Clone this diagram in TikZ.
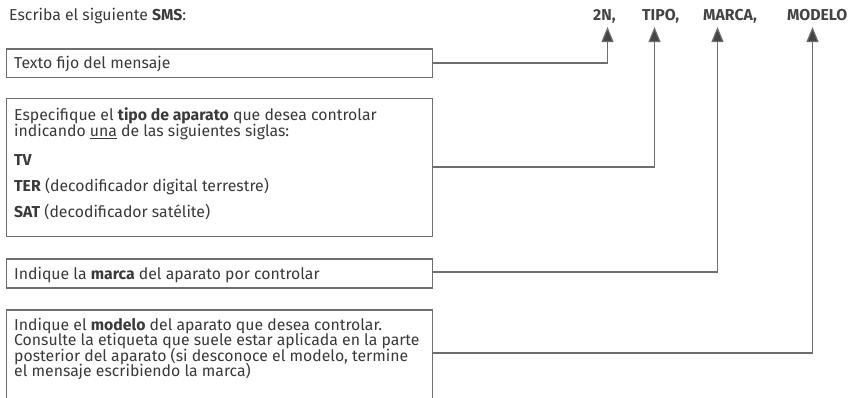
\documentclass[tikz,border=0pt]{standalone}
\usepackage{fontspec}
\setmainfont{Fira Sans}
\usetikzlibrary{arrows.meta}
\definecolor{txt}{HTML}{3A3A3A}
\definecolor{ln}{HTML}{6E6E6E}
\definecolor{hd}{HTML}{444444}
\tikzset{
  boxr/.style={draw=ln,line width=1.2pt,inner sep=0pt,anchor=north west},
  tl/.style={anchor=base west,inner sep=0pt,text=txt,font=\fontsize{15.8}{16}\selectfont},
  hdl/.style={anchor=base west,inner sep=0pt,text=hd,font=\fontsize{15.8}{16}\selectfont\bfseries},
  conn/.style={draw=ln,line width=1.2pt},
  arr/.style={conn,arrows={-{Triangle[width=12pt,length=15pt,fill=hd]}}}
}
\begin{document}
\begin{tikzpicture}[x=1pt,y=-1pt]
\clip (0,0) rectangle (855,397);
\fill[white] (0,0) rectangle (855,397);
% header
\node[tl] (title) at (9,20) {Escriba el siguiente \textbf{SMS}:};
\node[hdl] (h1) at (593,20) {2N,};
\node[hdl] (h2) at (642,20) {TIPO,};
\node[hdl] (h3) at (703,20) {MARCA,};
\node[hdl] (h4) at (787,20) {MODELO};
\coordinate (t1) at (607.5,27);
\coordinate (t2) at (654.5,27);
\coordinate (t3) at (717.5,27);
\coordinate (t4) at (812.5,27);
% boxes
\node[boxr,minimum width=426pt,minimum height=28.5pt] (b1) at (5.5,48.3) {};
\node[boxr,minimum width=426pt,minimum height=138pt] (b2) at (5.5,97.8) {};
\node[boxr,minimum width=426pt,minimum height=29pt] (b3) at (5.5,258.3) {};
\node[boxr,minimum width=426pt,minimum height=120pt] (b4) at (5.5,309.3) {};
% texts
\node[tl] (x1) at (14,68.5) {Texto fijo del mensaje};
\node[tl] (x2a) at (14,120.5) {Especifique el \textbf{tipo de aparato} que desea controlar};
\node[tl] (x2b) at (14,136.2) {indicando \underline{una} de las siguientes siglas:};
\node[tl] (x2c) at (14,165.5) {\textbf{TV}};
\node[tl] (x2d) at (14,191.5) {\textbf{TER} (decodificador digital terrestre)};
\node[tl] (x2e) at (14,217.5) {\textbf{SAT} (decodificador satélite)};
\node[tl] (x3) at (14,279.5) {Indique la \textbf{marca} del aparato por controlar};
\node[tl] (x4a) at (14,330) {Indique el \textbf{modelo} del aparato que desea controlar.};
\node[tl] (x4b) at (14,345.6) {Consulte la etiqueta que suele estar aplicada en la parte};
\node[tl] (x4c) at (14,361.2) {posterior del aparato (si desconoce el modelo, termine};
\node[tl] (x4d) at (14,376.8) {el mensaje escribiendo la marca)};
% connectors
\draw[arr] (b1.east |- 0,63) -| (t1);
\draw[arr] (b2.east |- 0,167) -| (t2);
\draw[arr] (b3.east |- 0,272) -| (t3);
\draw[arr] (b4.east |- 0,353) -| (t4);
\end{tikzpicture}
\end{document}
